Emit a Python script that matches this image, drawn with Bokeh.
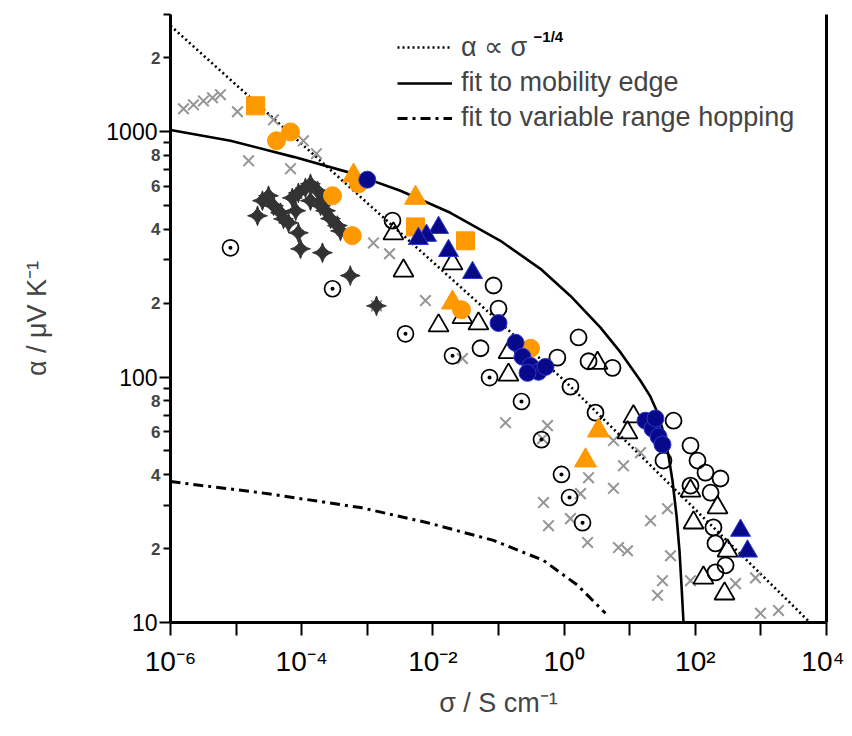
import math
from bokeh.plotting import figure
from bokeh.models import (FixedTicker, CustomJSTickFormatter, LogAxis, Legend, LegendItem, Label)
from bokeh.embed import file_html
from bokeh.resources import INLINE

FONT = "Liberation Sans"

# ---------------- data (sigma in S/cm, alpha in uV/K) ----------------
cross_sigma = [1.58e-6, 2.24e-6, 3.18e-6, 4.37e-6, 5.78e-6, 1.05e-5, 1.55e-5, 3.72e-5, 1.06e-4, 1.68e-4, 6.75e-5,
               1.24e-3, 2.18e-3, 1.38e-3, 7.7e-3, 0.0282, 0.128, 0.558, 0.469, 0.485, 0.578, 1.25, 2.28, 1.78,
               2.36, 5.66, 5.66, 6.75, 9.25, 8.04, 14.6, 20.8, 31.6, 26.6, 41.9, 37.7, 84.5, 410, 828, 986, 1854]
cross_alpha = [1239, 1286, 1334, 1373, 1414, 1205, 760, 1117, 917, 813, 706,
               352, 318, 195, 205, 119, 65.2, 63.4, 56.1, 30.8, 24.8, 26.5, 21.2, 33.5,
               38.9, 35.2, 55.1, 20.2, 19.6, 43.5, 49.2, 26.0, 14.8, 12.9, 18.7, 29.1, 14.8, 14.4, 15.2, 10.9, 11.2]

star_sigma = [2.12e-5, 2.52e-5, 3.12e-5, 3.72e-5, 4.75e-5, 5.28e-5, 6.3e-5, 8.9e-5, 9.6e-5, 2.07e-4,
              7.2e-5, 8.9e-5, 1.14e-4, 1.36e-4, 1.74e-4, 2.07e-4, 2.31e-4, 2.75e-4, 3.5e-4, 3.9e-4,
              5.5e-4, 1.94e-4, 1.38e-3, 8.1e-5, 1.36e-4]
star_alpha = [454, 523, 548, 499, 467, 441, 425, 387, 333, 321,
              537, 563, 590, 613, 574, 523, 476, 442, 414, 394,
              259, 499, 195, 476, 523]

cdot_sigma = [8.2e-6, 2.95e-4, 3.82e-3, 1.99e-2, 7.3e-2, 0.224, 0.452, 0.912, 1.21, 1.91]
cdot_alpha = [336, 229, 150, 122, 99.5, 79.5, 55.6, 40.1, 32.3, 25.5]

ocirc_sigma = [2.42e-3, 0.084, 0.1, 0.0532, 1.66, 0.79, 2.36, 5.47, 1.25, 3.01, 46.6, 84.5, 108, 143,
               242, 84.5, 171, 189, 203, 289, 32.7, 203]
ocirc_alpha = [434, 236, 190, 131, 145, 120, 116, 109, 91.4, 71.6, 66.4, 52.6, 45.7, 40.8,
               38.6, 36.1, 33.8, 24.4, 21.0, 17.1, 45.7, 16.0]

otri_sigma = [2.5e-3, 3.56e-3, 0.0199, 0.0122, 0.0282, 0.0495, 0.142, 0.142, 3.23, 9.25, 11.4,
              84.5, 218, 94, 310, 133, 279]
otri_alpha = [384, 271, 290, 162, 175, 165, 126, 102, 114, 59.4, 69,
              34.4, 29.4, 25.5, 19.6, 15.2, 13.1]

osq_sigma = [1.98e-5, 5.43e-3, 0.0314]
osq_alpha = [1274, 409, 359]

ocf_sigma = [4.13e-5, 6.75e-5, 2.95e-4, 5.9e-4, 0.308, 7.35e-4, 0.0273]
ocf_alpha = [918, 997, 548, 377, 131, 613, 188]

otf_sigma = [6.17e-4, 5.43e-3, 3.34, 2.12, 0.0199]
otf_alpha = [661, 537, 60.5, 45.7, 201]

ncf_sigma = [1.0e-3, 0.1, 0.182, 0.232, 0.308, 0.407, 0.52, 0.277, 17.4, 22.3, 27.5, 31.6, 24.7]
ncf_alpha = [637, 166, 138, 121, 111, 105, 110, 104, 66.4, 61.6, 57.2, 53.1, 67.8]

ntf_sigma = [0.0122, 7.98e-3, 6.0e-3, 0.0173, 0.0402, 489, 625]
ntf_alpha = [406, 377, 366, 327, 266, 23.7, 19.5]

# curves
pow_sigma = [1e-6, 1.0, 5.6e3]
pow_alpha = [2700, 97, 10]
me_sigma = [1e-6, 8.22e-6, 7.5e-5, 5.55e-4, 3.2e-3, 0.0185, 0.107, 0.436, 1.25, 3.59, 7.25, 14.6,
            20.7, 26.6, 32.8, 39.0, 44.9, 51.7, 57.4, 61.6, 66.1]
me_alpha = [1016, 918, 789, 679, 574, 467, 359, 276, 214, 159, 126, 96.6,
            83.2, 71.6, 59.4, 47.9, 37.8, 27.3, 19.6, 14.2, 10]
vrh_sigma = [1e-6, 2.35e-5, 7.9e-4, 8.3e-3, 0.084, 0.485, 1.6, 4.27]
vrh_alpha = [37.5, 33.8, 29.4, 25.5, 21.6, 17.9, 14.2, 10.9]

x_ticks = [1e-6, 1e-5, 1e-4, 1e-3, 1e-2, 1e-1, 1e0, 1e1, 1e2, 1e3, 1e4]
y_major = [10, 100, 1000]
y_minor = [20, 30, 40, 50, 60, 70, 80, 90, 200, 300, 400, 500, 600, 700, 800, 900, 2000, 3000]
y_small_vals = [20, 40, 60, 80, 200, 400, 600, 800, 2000]

legend_labels = ["\u03b1 \u221d \u03c3", "fit to mobility edge", "fit to variable range hopping"]
legend_sup = "\u22121/4"

# ---------------- figure ----------------
p = figure(width=844, height=728, x_axis_type="log", y_axis_type="log",
           x_range=(1e-6, 1e4), y_range=(10, 3000),
           output_backend="svg", toolbar_location=None,
           min_border_left=170, min_border_right=18, min_border_top=14, min_border_bottom=106)
p.grid.visible = False
p.outline_line_color = None
p.background_fill_color = "white"

# x axis
p.xaxis.ticker = FixedTicker(ticks=x_ticks, minor_ticks=[])
p.xaxis.formatter = CustomJSTickFormatter(code="""
const e = Math.round(Math.log10(tick));
if (e % 2 !== 0) { return ""; }
const sup = {"-": "\u207b", "0": "\u2070", "1": "\u00b9", "2": "\u00b2", "3": "\u00b3", "4": "\u2074",
             "5": "\u2075", "6": "\u2076", "7": "\u2077", "8": "\u2078", "9": "\u2079"};
let s = "";
for (const c of String(e)) { s += sup[c]; }
return "10" + s;
""")
# inner y axis: decades
p.yaxis.ticker = FixedTicker(ticks=y_major, minor_ticks=y_minor)
p.yaxis.formatter = CustomJSTickFormatter(code="return tick.toFixed(0);")

for ax in (p.xaxis[0], p.yaxis[0]):
    ax.axis_line_width = 3
    ax.axis_line_color = "black"
    ax.major_tick_line_width = 2
    ax.minor_tick_line_width = 2
    ax.major_tick_in = 0
    ax.minor_tick_in = 0
    ax.major_label_text_font = FONT
    ax.axis_label_text_font = FONT
    ax.axis_label_text_font_style = "normal"
    ax.axis_label_text_font_size = "27px"
    ax.major_label_text_color = "black"

p.xaxis.major_tick_out = 13
p.xaxis.major_label_text_font_size = "28px"
p.xaxis.major_label_standoff = 10
p.xaxis.axis_label = "\u03c3 / S cm\u207b\u00b9"
p.xaxis.axis_label_standoff = 8

p.yaxis.major_tick_out = 11
p.yaxis.minor_tick_out = 7
p.yaxis.major_label_text_font_size = "23px"
p.yaxis.major_label_standoff = 2

# outer y axis: small 2,4,6,8 labels pulled back next to the ticks
yb = LogAxis(ticker=FixedTicker(ticks=y_small_vals, minor_ticks=[]),
             formatter=CustomJSTickFormatter(
                 code="return (tick / Math.pow(10, Math.floor(Math.log10(tick) + 1e-9))).toFixed(0);"),
             axis_line_color=None, major_tick_out=0, major_tick_in=0, minor_tick_out=0, minor_tick_in=0,
             major_label_text_font=FONT, major_label_text_font_size="17px",
             major_label_text_font_style="bold", major_label_standoff=-57,
             axis_label="\u03b1 / \u03bcV K\u207b\u00b9", axis_label_text_font=FONT,
             axis_label_text_font_size="27px", axis_label_text_font_style="normal",
             axis_label_standoff=96)
p.add_layout(yb, "left")

# right frame line
rax = LogAxis(axis_line_width=3, major_tick_out=0, major_tick_in=0, minor_tick_out=0, minor_tick_in=0,
              major_label_text_font_size="0px", ticker=FixedTicker(ticks=[], minor_ticks=[]))
p.add_layout(rax, "right")

# ---------------- curves ----------------
r_pow = p.line(pow_sigma, pow_alpha, line_color="black", line_width=2.6, line_dash="2 3")
r_me = p.line(me_sigma, me_alpha, line_color="black", line_width=2.6)
r_vrh = p.line(vrh_sigma, vrh_alpha, line_color="black", line_width=3, line_dash="10 5 3 5")

# ---------------- markers ----------------
p.scatter(cross_sigma, cross_alpha, marker="x", size=15, line_color="#959595", line_width=2)
p.scatter(star_sigma, star_alpha, marker="square_pin", size=14, angle=math.pi / 4,
          fill_color="#333333", line_color="#333333", line_width=1)
p.scatter(cdot_sigma, cdot_alpha, marker="circle_dot", size=16, fill_color=None,
          line_color="black", line_width=1.7)
p.scatter(ocirc_sigma, ocirc_alpha, marker="circle", size=16, fill_color=None,
          line_color="black", line_width=1.8)
p.scatter(otri_sigma, otri_alpha, marker="triangle", size=20, fill_color=None,
          line_color="black", line_width=1.8)
p.scatter(osq_sigma, osq_alpha, marker="square", size=18, fill_color="#ff9900", line_color="#ff9900")
p.scatter(ocf_sigma, ocf_alpha, marker="circle", size=18, fill_color="#ff9900", line_color="#ff9900")
p.scatter(otf_sigma, otf_alpha, marker="triangle", size=22, fill_color="#ff9900", line_color="#ff9900")
p.scatter(ncf_sigma, ncf_alpha, marker="circle", size=17, fill_color="#08088a", line_color="#2a3ad0",
          line_width=1)
p.scatter(ntf_sigma, ntf_alpha, marker="triangle", size=20, fill_color="#08088a", line_color="#2a3ad0",
          line_width=1)

# ---------------- legend ----------------
legend = Legend(items=[LegendItem(label=legend_labels[0], renderers=[r_pow]),
                       LegendItem(label=legend_labels[1], renderers=[r_me]),
                       LegendItem(label=legend_labels[2], renderers=[r_vrh])],
                location=(227, 489), label_text_font=FONT, label_text_font_size="27px",
                glyph_width=55, glyph_height=30, label_height=30, label_standoff=9,
                spacing=4, padding=0, margin=0, border_line_color=None, background_fill_alpha=0)
p.add_layout(legend)
p.add_layout(Label(x=0.342, y=2450, x_units="data", y_units="data", text=legend_sup,
                   text_font=FONT, text_font_size="15px", text_font_style="bold",
                   text_baseline="alphabetic", text_align="left", text_color="black"))

open("out.html", "w").write(file_html(p, INLINE))
